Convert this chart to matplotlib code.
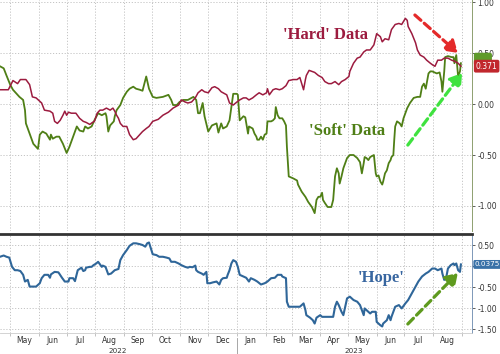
import matplotlib
matplotlib.use('Agg')
import matplotlib.pyplot as plt
import matplotlib.dates as mdates
import matplotlib.transforms as mtransforms
import pandas as pd

# 'Hard' data (red)
hard_dates = ['2022-04-20', '2022-04-29', '2022-05-04', '2022-05-09', '2022-05-12', '2022-05-18',
              '2022-05-22', '2022-05-25', '2022-05-29', '2022-06-04', '2022-06-07', '2022-06-13',
              '2022-06-16', '2022-06-18', '2022-06-21', '2022-06-24', '2022-06-27', '2022-06-29',
              '2022-07-01', '2022-07-03', '2022-07-06', '2022-07-11', '2022-07-15', '2022-07-19',
              '2022-07-22', '2022-07-26', '2022-07-29', '2022-07-31', '2022-08-03', '2022-08-06',
              '2022-08-09', '2022-08-13', '2022-08-17', '2022-08-20', '2022-08-22', '2022-08-24',
              '2022-08-26', '2022-08-28', '2022-08-31', '2022-09-04', '2022-09-07', '2022-09-11',
              '2022-09-14', '2022-09-18', '2022-09-21', '2022-09-25', '2022-09-28', '2022-10-02',
              '2022-10-08', '2022-10-13', '2022-10-19', '2022-10-24', '2022-10-30', '2022-11-02',
              '2022-11-06', '2022-11-09', '2022-11-13', '2022-11-17', '2022-11-20', '2022-11-24',
              '2022-11-27', '2022-12-01', '2022-12-05', '2022-12-08', '2022-12-12', '2022-12-15',
              '2022-12-21', '2022-12-24', '2022-12-28', '2023-01-01', '2023-01-04', '2023-01-08',
              '2023-01-11', '2023-01-14', '2023-01-18', '2023-01-22', '2023-01-25', '2023-01-29',
              '2023-02-02', '2023-02-03', '2023-02-05', '2023-02-09', '2023-02-12', '2023-02-16',
              '2023-02-19', '2023-02-23', '2023-02-26', '2023-03-03', '2023-03-07', '2023-03-10',
              '2023-03-12', '2023-03-14', '2023-03-16', '2023-03-17', '2023-03-20', '2023-03-23',
              '2023-03-26', '2023-03-30', '2023-04-03', '2023-04-06', '2023-04-10', '2023-04-13',
              '2023-04-17', '2023-04-21', '2023-04-24', '2023-04-28', '2023-05-02', '2023-05-03',
              '2023-05-07', '2023-05-11', '2023-05-14', '2023-05-18', '2023-05-21', '2023-05-25',
              '2023-05-29', '2023-06-01', '2023-06-05', '2023-06-07', '2023-06-10', '2023-06-14',
              '2023-06-17', '2023-06-21', '2023-06-25', '2023-06-28', '2023-07-02', '2023-07-04',
              '2023-07-05', '2023-07-09', '2023-07-13', '2023-07-15', '2023-07-18', '2023-07-22',
              '2023-07-25', '2023-07-29', '2023-08-01', '2023-08-03', '2023-08-06', '2023-08-10',
              '2023-08-13', '2023-08-17', '2023-08-21', '2023-08-24', '2023-08-28', '2023-08-30',
              '2023-08-31']
hard_values = [0.14, 0.14, 0.23, 0.20, 0.24, 0.24, 0.19, 0.07, 0.06, 0.01, -0.06, -0.07,
               -0.09, -0.17, -0.19, -0.16, -0.11, -0.07, -0.11, -0.08, -0.09, -0.09, -0.14, -0.17,
               -0.18, -0.20, -0.18, -0.17, -0.09, -0.06, -0.06, -0.04, -0.06, -0.04, -0.07, -0.11,
               -0.14, -0.19, -0.22, -0.22, -0.30, -0.35, -0.34, -0.30, -0.27, -0.24, -0.22, -0.17,
               -0.15, -0.11, -0.08, -0.04, -0.01, 0.04, 0.02, 0.01, 0.02, 0.06, 0.11, 0.14,
               0.12, 0.11, 0.16, 0.17, 0.15, 0.12, 0.09, 0.01, -0.01, 0.02, 0.04, 0.06,
               0.06, 0.04, 0.06, 0.09, 0.11, 0.09, 0.11, 0.15, 0.09, 0.14, 0.15, 0.14,
               0.15, 0.18, 0.23, 0.24, 0.24, 0.26, 0.20, 0.14, 0.24, 0.28, 0.33, 0.32,
               0.31, 0.28, 0.26, 0.22, 0.20, 0.20, 0.22, 0.19, 0.22, 0.24, 0.27, 0.32,
               0.40, 0.45, 0.46, 0.51, 0.53, 0.53, 0.58, 0.69, 0.66, 0.61, 0.64, 0.63,
               0.73, 0.78, 0.79, 0.78, 0.84, 0.82, 0.76, 0.69, 0.60, 0.53, 0.48, 0.46,
               0.43, 0.40, 0.38, 0.37, 0.43, 0.43, 0.45, 0.45, 0.43, 0.42, 0.40, 0.38,
               0.371]

# 'Soft' data (green)
soft_dates = ['2022-04-20', '2022-04-24', '2022-04-27', '2022-05-01', '2022-05-04', '2022-05-08',
              '2022-05-11', '2022-05-15', '2022-05-17', '2022-05-18', '2022-05-22', '2022-05-26',
              '2022-05-29', '2022-05-31', '2022-06-02', '2022-06-05', '2022-06-09', '2022-06-13',
              '2022-06-14', '2022-06-16', '2022-06-20', '2022-06-23', '2022-06-27', '2022-07-01',
              '2022-07-04', '2022-07-08', '2022-07-12', '2022-07-15', '2022-07-19', '2022-07-21',
              '2022-07-24', '2022-07-28', '2022-07-31', '2022-08-04', '2022-08-08', '2022-08-12',
              '2022-08-13', '2022-08-15', '2022-08-17', '2022-08-21', '2022-08-22', '2022-08-24',
              '2022-08-28', '2022-08-31', '2022-09-04', '2022-09-07', '2022-09-11', '2022-09-14',
              '2022-09-18', '2022-09-21', '2022-09-25', '2022-09-28', '2022-10-02', '2022-10-06',
              '2022-10-13', '2022-10-19', '2022-10-22', '2022-10-24', '2022-10-28', '2022-10-31',
              '2022-11-04', '2022-11-09', '2022-11-15', '2022-11-18', '2022-11-20', '2022-11-22',
              '2022-11-25', '2022-11-27', '2022-12-01', '2022-12-05', '2022-12-10', '2022-12-12',
              '2022-12-15', '2022-12-17', '2022-12-21', '2022-12-24', '2022-12-28', '2023-01-01',
              '2023-01-02', '2023-01-04', '2023-01-08', '2023-01-10', '2023-01-13', '2023-01-14',
              '2023-01-18', '2023-01-20', '2023-01-22', '2023-01-23', '2023-01-25', '2023-01-27',
              '2023-01-29', '2023-01-31', '2023-02-02', '2023-02-03', '2023-02-07', '2023-02-09',
              '2023-02-11', '2023-02-12', '2023-02-14', '2023-02-16', '2023-02-19', '2023-02-21',
              '2023-02-23', '2023-02-24', '2023-02-26', '2023-03-03', '2023-03-07', '2023-03-08',
              '2023-03-12', '2023-03-16', '2023-03-19', '2023-03-23', '2023-03-26', '2023-03-28',
              '2023-03-30', '2023-04-01', '2023-04-03', '2023-04-04', '2023-04-06', '2023-04-09',
              '2023-04-13', '2023-04-15', '2023-04-17', '2023-04-19', '2023-04-21', '2023-04-22',
              '2023-04-24', '2023-04-26', '2023-04-30', '2023-05-03', '2023-05-07', '2023-05-11',
              '2023-05-14', '2023-05-16', '2023-05-18', '2023-05-19', '2023-05-21', '2023-05-23',
              '2023-05-25', '2023-05-29', '2023-05-31', '2023-06-01', '2023-06-03', '2023-06-05',
              '2023-06-07', '2023-06-08', '2023-06-10', '2023-06-12', '2023-06-14', '2023-06-16',
              '2023-06-17', '2023-06-19', '2023-06-20', '2023-06-21', '2023-06-23', '2023-06-26',
              '2023-06-28', '2023-06-30', '2023-07-02', '2023-07-04', '2023-07-07', '2023-07-11',
              '2023-07-15', '2023-07-18', '2023-07-20', '2023-07-22', '2023-07-24', '2023-07-25',
              '2023-07-27', '2023-07-29', '2023-07-31', '2023-08-05', '2023-08-08', '2023-08-10',
              '2023-08-11', '2023-08-13', '2023-08-14', '2023-08-17', '2023-08-21', '2023-08-23',
              '2023-08-24', '2023-08-26', '2023-08-28', '2023-08-30', '2023-08-31']
soft_values = [0.37, 0.35, 0.28, 0.19, 0.14, 0.10, 0.07, 0.04, -0.06, -0.19, -0.29, -0.39,
               -0.42, -0.44, -0.30, -0.27, -0.29, -0.35, -0.30, -0.34, -0.32, -0.32, -0.39, -0.48,
               -0.42, -0.32, -0.22, -0.26, -0.27, -0.22, -0.24, -0.22, -0.16, -0.09, -0.11, -0.09,
               -0.12, -0.27, -0.21, -0.17, -0.12, -0.06, -0.01, 0.06, 0.12, 0.15, 0.17, 0.15,
               0.14, 0.13, 0.27, 0.15, 0.07, 0.06, 0.07, 0.09, 0.04, -0.01, -0.01, 0.02,
               0.04, 0.04, 0.07, 0.04, -0.09, -0.09, 0.01, -0.12, -0.27, -0.21, -0.19, -0.28,
               -0.19, -0.24, -0.22, -0.16, 0.10, 0.10, 0.09, -0.16, -0.12, -0.13, -0.29, -0.22,
               -0.24, -0.29, -0.32, -0.35, -0.35, -0.32, -0.35, -0.30, -0.29, -0.17, -0.17, -0.16,
               -0.14, -0.03, -0.11, -0.14, -0.14, -0.17, -0.21, -0.42, -0.71, -0.73, -0.75, -0.79,
               -0.86, -0.91, -0.96, -1.01, -1.07, -0.94, -0.91, -0.91, -0.87, -0.94, -0.97, -1.01,
               -1.01, -0.94, -0.71, -0.63, -0.68, -0.78, -0.71, -0.63, -0.53, -0.50, -0.50, -0.53,
               -0.57, -0.68, -0.58, -0.52, -0.53, -0.55, -0.52, -0.50, -0.68, -0.71, -0.70, -0.76,
               -0.79, -0.76, -0.68, -0.65, -0.58, -0.55, -0.52, -0.50, -0.35, -0.22, -0.17, -0.19,
               -0.22, -0.14, -0.09, -0.04, 0.01, 0.06, 0.07, 0.07, 0.17, 0.20, 0.15, 0.20,
               0.30, 0.32, 0.32, 0.30, 0.31, 0.22, 0.12, 0.32, 0.46, 0.47, 0.46, 0.46,
               0.40, 0.48, 0.27, 0.32, 0.40]

# 'Hope' (blue, lower panel)
hope_dates = ['2022-04-20', '2022-04-24', '2022-04-27', '2022-04-30', '2022-05-03', '2022-05-06',
              '2022-05-09', '2022-05-12', '2022-05-15', '2022-05-17', '2022-05-20', '2022-05-22',
              '2022-05-26', '2022-05-29', '2022-06-02', '2022-06-04', '2022-06-07', '2022-06-11',
              '2022-06-13', '2022-06-14', '2022-06-18', '2022-06-22', '2022-06-23', '2022-06-26',
              '2022-06-29', '2022-07-03', '2022-07-04', '2022-07-08', '2022-07-10', '2022-07-13',
              '2022-07-17', '2022-07-19', '2022-07-21', '2022-07-22', '2022-07-26', '2022-07-28',
              '2022-07-30', '2022-08-02', '2022-08-04', '2022-08-06', '2022-08-08', '2022-08-09',
              '2022-08-12', '2022-08-15', '2022-08-18', '2022-08-20', '2022-08-22', '2022-08-26',
              '2022-08-28', '2022-08-31', '2022-09-04', '2022-09-07', '2022-09-11', '2022-09-14',
              '2022-09-18', '2022-09-21', '2022-09-24', '2022-09-26', '2022-09-28', '2022-09-30',
              '2022-10-02', '2022-10-06', '2022-10-09', '2022-10-13', '2022-10-17', '2022-10-20',
              '2022-10-22', '2022-10-26', '2022-10-30', '2022-11-02', '2022-11-06', '2022-11-09',
              '2022-11-11', '2022-11-14', '2022-11-17', '2022-11-18', '2022-11-20', '2022-11-24',
              '2022-11-26', '2022-11-29', '2022-11-30', '2022-12-03', '2022-12-06', '2022-12-10',
              '2022-12-13', '2022-12-15', '2022-12-17', '2022-12-21', '2022-12-22', '2022-12-24',
              '2022-12-26', '2022-12-28', '2022-12-31', '2023-01-02', '2023-01-04', '2023-01-08',
              '2023-01-11', '2023-01-14', '2023-01-16', '2023-01-20', '2023-01-23', '2023-01-27',
              '2023-01-31', '2023-02-03', '2023-02-07', '2023-02-11', '2023-02-14', '2023-02-18',
              '2023-02-19', '2023-02-23', '2023-02-24', '2023-02-26', '2023-03-03', '2023-03-07',
              '2023-03-10', '2023-03-14', '2023-03-16', '2023-03-17', '2023-03-21', '2023-03-24',
              '2023-03-26', '2023-03-28', '2023-04-01', '2023-04-03', '2023-04-06', '2023-04-10',
              '2023-04-13', '2023-04-15', '2023-04-17', '2023-04-19', '2023-04-21', '2023-04-24',
              '2023-04-26', '2023-04-28', '2023-04-30', '2023-05-03', '2023-05-07', '2023-05-11',
              '2023-05-14', '2023-05-18', '2023-05-19', '2023-05-21', '2023-05-25', '2023-05-27',
              '2023-05-31', '2023-06-01', '2023-06-05', '2023-06-07', '2023-06-08', '2023-06-12',
              '2023-06-14', '2023-06-16', '2023-06-17', '2023-06-19', '2023-06-21', '2023-06-25',
              '2023-06-28', '2023-07-02', '2023-07-05', '2023-07-09', '2023-07-13', '2023-07-16',
              '2023-07-20', '2023-07-24', '2023-07-27', '2023-07-31', '2023-08-03', '2023-08-06',
              '2023-08-10', '2023-08-11', '2023-08-13', '2023-08-15', '2023-08-17', '2023-08-20',
              '2023-08-23', '2023-08-24', '2023-08-26', '2023-08-28', '2023-08-30', '2023-08-31']
hope_values = [0.22, 0.25, 0.22, 0.20, -0.02, -0.10, -0.10, -0.12, -0.21, -0.37, -0.33, -0.49,
               -0.49, -0.49, -0.41, -0.29, -0.21, -0.21, -0.28, -0.20, -0.14, -0.15, -0.18, -0.28,
               -0.37, -0.37, -0.29, -0.29, -0.36, -0.10, -0.04, -0.12, -0.10, -0.04, -0.02, -0.02,
               0.02, 0.06, 0.10, 0.04, -0.02, 0.01, -0.02, -0.20, -0.18, -0.14, -0.10, -0.07,
               0.14, 0.26, 0.38, 0.48, 0.54, 0.54, 0.52, 0.50, 0.46, 0.54, 0.56, 0.42,
               0.28, 0.26, 0.22, 0.22, 0.20, 0.18, 0.10, 0.10, 0.06, 0.02, -0.02, -0.04,
               -0.02, -0.03, 0.01, -0.10, -0.14, -0.18, -0.21, -0.14, -0.41, -0.41, -0.39, -0.37,
               -0.44, -0.33, -0.29, -0.28, -0.21, -0.10, 0.06, 0.14, 0.10, -0.02, -0.21, -0.25,
               -0.28, -0.37, -0.29, -0.33, -0.37, -0.44, -0.41, -0.37, -0.29, -0.28, -0.21, -0.21,
               -0.25, -0.29, -0.85, -0.97, -0.97, -0.97, -0.97, -0.89, -1.05, -1.17, -1.23, -1.29,
               -1.37, -1.23, -1.17, -1.21, -1.21, -1.21, -1.21, -1.21, -0.97, -0.85, -0.93, -1.09,
               -1.17, -0.97, -0.77, -0.73, -0.81, -0.85, -0.93, -1.17, -1.01, -1.05, -1.13, -1.09,
               -1.09, -1.33, -1.41, -1.44, -1.37, -1.29, -1.17, -1.29, -1.21, -1.09, -0.97, -0.93,
               -1.01, -0.89, -0.81, -0.65, -0.49, -0.37, -0.25, -0.18, -0.14, -0.06, -0.06, -0.10,
               -0.06, -0.18, -0.33, -0.29, -0.06, 0.02, 0.06, 0.02, 0.06, -0.10, -0.14, 0.0375]

top_ticks = [1.0, 0.5, 0.0, -0.5, -1.0]
bottom_ticks = [0.5, 0.0, -0.5, -1.0, -1.5]

HARD_COLOR = '#9c1b3f'
SOFT_COLOR = '#4f7f16'
HOPE_COLOR = '#2f6699'
GRID_COLOR = '#c4c4c4'


def style_axis(ax, ticks, spine_color):
    """Common styling shared by both panels."""
    ax.set_xlim(pd.Timestamp('2022-04-20'), pd.Timestamp('2023-09-12'))
    ax.yaxis.tick_right()
    ax.set_yticks(ticks)
    ax.set_yticklabels(['{:.2f}'.format(t) for t in ticks])
    ax.tick_params(axis='y', labelsize=5.5, length=2.5, width=0.6, pad=1.5,
                   colors='#444444', labelcolor='#333333')
    ax.xaxis.set_major_locator(mdates.MonthLocator())
    ax.xaxis.set_minor_locator(mdates.MonthLocator(bymonthday=16))
    ax.grid(True, which='major', linestyle=(0, (1.2, 1.8)), color=GRID_COLOR, linewidth=0.7)
    ax.spines['left'].set_visible(False)
    ax.spines['right'].set_color(spine_color)
    ax.spines['right'].set_linewidth(0.7)
    ax.set_axisbelow(True)


fig = plt.figure(figsize=(5.0, 3.54), dpi=100)
ax_top = fig.add_axes([0.0, 0.3475, 0.944, 0.6525])
ax_bot = fig.add_axes([0.0, 0.0593, 0.944, 0.2797])

# Top panel: hard vs soft
ax_top.plot(pd.to_datetime(hard_dates), hard_values, color=HARD_COLOR, lw=1.1, zorder=3)
ax_top.plot(pd.to_datetime(soft_dates), soft_values, color=SOFT_COLOR, lw=1.3, zorder=2)
ax_top.set_ylim(-1.245, 1.02)
style_axis(ax_top, top_ticks, '#8ea070')
ax_top.spines['top'].set_visible(False)
ax_top.spines['bottom'].set_visible(False)
ax_top.tick_params(axis='x', which='both', length=0, labelbottom=False)

# Bottom panel: hope
ax_bot.plot(pd.to_datetime(hope_dates), hope_values, color=HOPE_COLOR, lw=1.5, zorder=3)
ax_bot.set_ylim(-1.595, 0.762)
style_axis(ax_bot, bottom_ticks, '#7d98b8')
# the 0.00 label is hidden under the last-value tag, as in the original
ax_bot.set_yticklabels(['' if t == 0 else '{:.2f}'.format(t) for t in bottom_ticks])
ax_bot.spines['top'].set_color('#333333')
ax_bot.spines['top'].set_linewidth(2.0)
ax_bot.spines['bottom'].set_color('#cccccc')
ax_bot.spines['bottom'].set_linewidth(0.6)
ax_bot.xaxis.set_major_formatter(plt.NullFormatter())
ax_bot.xaxis.set_minor_formatter(mdates.DateFormatter('%b'))
ax_bot.tick_params(axis='x', which='major', length=2, width=0.5, colors='#aaaaaa')
ax_bot.tick_params(axis='x', which='minor', length=0, labelsize=5.5, pad=2.5,
                   labelcolor='#333333')

# Year labels under the month labels
year_trans = mtransforms.blended_transform_factory(ax_bot.transData, ax_bot.transAxes)
ax_bot.text(pd.Timestamp('2022-08-25'), -0.177, '2022', transform=year_trans,
            ha='center', va='center', fontsize=5.2, color='#333333')
ax_bot.text(pd.Timestamp('2023-05-07'), -0.177, '2023', transform=year_trans,
            ha='center', va='center', fontsize=5.2, color='#333333')
ax_bot.axvline(pd.Timestamp('2023-01-01'), ymin=-0.22, ymax=-0.05, color='#999999',
               lw=0.6, clip_on=False)

# Last value tags on the right axis (green tag sits mostly behind the red one)
tag_top = mtransforms.blended_transform_factory(ax_top.transAxes, ax_top.transData)
ax_top.text(1.008, soft_values[-1] + 0.04, '      ', transform=tag_top, fontsize=5.5,
            ha='left', va='center', clip_on=False, zorder=5,
            bbox=dict(boxstyle='round,pad=0.25', fc='#5f9a2a', ec='none'))
ax_top.text(1.008, hard_values[-1], '0.371', transform=tag_top, fontsize=5.5,
            color='white', ha='left', va='center', clip_on=False, zorder=6,
            bbox=dict(boxstyle='round,pad=0.25', fc='#c1272d', ec='none'))
tag_bot = mtransforms.blended_transform_factory(ax_bot.transAxes, ax_bot.transData)
ax_bot.text(1.006, hope_values[-1], '0.0375', transform=tag_bot, fontsize=5.2,
            color='white', ha='left', va='center', clip_on=False, zorder=6,
            bbox=dict(boxstyle='round,pad=0.2', fc='#3a72a8', ec='none'))

# Annotations
serif = 'Liberation Serif'
ax_top.text(0.689, 0.848, "'Hard' Data", transform=ax_top.transAxes, family=serif,
            fontsize=12, fontweight='bold', color=HARD_COLOR, ha='center', va='center')
ax_top.text(0.735, 0.433, "'Soft' Data", transform=ax_top.transAxes, family=serif,
            fontsize=12, fontweight='bold', color=SOFT_COLOR, ha='center', va='center')
ax_bot.text(0.807, 0.556, "'Hope'", transform=ax_bot.transAxes, family=serif,
            fontsize=12, fontweight='bold', color='#3866a0', ha='center', va='center')

arrow_style = '-|>,head_length=0.7,head_width=0.45'
ax_top.annotate('', xy=(0.970, 0.771), xytext=(0.879, 0.935), xycoords='axes fraction',
                arrowprops=dict(arrowstyle=arrow_style, lw=2.3, linestyle=(0, (2.5, 1.4)),
                                color='#e42a2a', shrinkA=0, shrinkB=0, mutation_scale=10))
ax_top.annotate('', xy=(0.979, 0.684), xytext=(0.864, 0.372), xycoords='axes fraction',
                arrowprops=dict(arrowstyle=arrow_style, lw=2.3, linestyle=(0, (2.5, 1.4)),
                                color='#3fe23f', shrinkA=0, shrinkB=0, mutation_scale=10))
ax_bot.annotate('', xy=(0.970, 0.606), xytext=(0.864, 0.091), xycoords='axes fraction',
                arrowprops=dict(arrowstyle=arrow_style, lw=2.3, linestyle=(0, (2.5, 1.4)),
                                color='#5e9a1e', shrinkA=0, shrinkB=0, mutation_scale=10))

fig.savefig('out.png', dpi=100)
